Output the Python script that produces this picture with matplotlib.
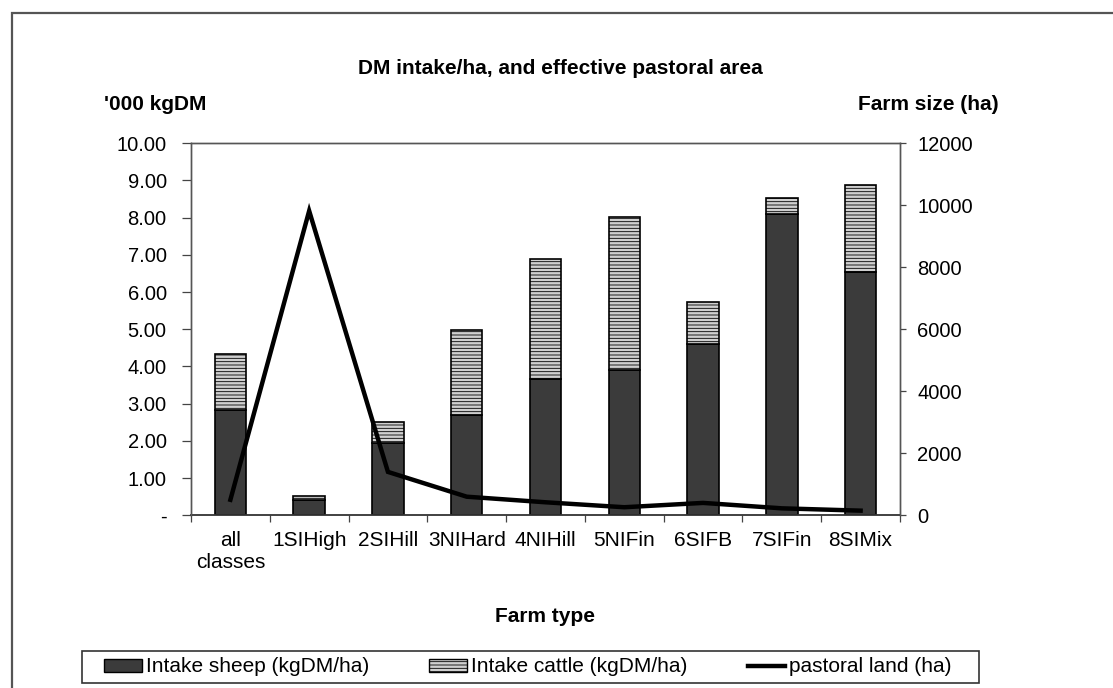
import matplotlib
matplotlib.use("Agg")
import matplotlib.pyplot as plt
from matplotlib.patches import Patch, Rectangle
from matplotlib.lines import Line2D
import numpy as np

plt.rcParams['font.family'] = ['Liberation Sans', 'DejaVu Sans']
plt.rcParams['hatch.color'] = '#8a8a8a'
plt.rcParams['hatch.linewidth'] = 0.6

# Data
farm_types = ["all\nclasses", "1SIHigh", "2SIHill", "3NIHard", "4NIHill",
              "5NIFin", "6SIFB", "7SIFin", "8SIMix"]
intake_sheep = [2.84, 0.40, 1.94, 2.70, 3.66, 3.91, 4.60, 8.09, 6.53]
intake_cattle = [1.50, 0.12, 0.58, 2.27, 3.24, 4.10, 1.13, 0.44, 2.36]
pastoral_land = [500, 9820, 1400, 600, 420, 260, 400, 225, 150]

left_ticks = np.arange(0, 11, 1)
left_labels = ["-"] + [f"{v:.2f}" for v in left_ticks[1:]]
right_ticks = np.arange(0, 12001, 2000)

TICK_FS = 14.5
BOLD_FS = 15

fig = plt.figure(figsize=(11.13, 6.88), dpi=100)
W, H = 1113, 688


def px_box(x0, y0, x1, y1):
    """Figure-fraction rectangle from pixel corners (origin top-left)."""
    return [x0 / W, 1 - y1 / H, (x1 - x0) / W, (y1 - y0) / H]


ax = fig.add_axes(px_box(191, 143.3, 900, 515.3))
x = np.arange(len(farm_types))

ax.bar(x, intake_sheep, width=0.4, color='#3b3b3b', edgecolor='black',
       linewidth=1.2, zorder=2)
ax.bar(x, intake_cattle, width=0.4, bottom=intake_sheep, color='#cfcfcf',
       edgecolor='black', linewidth=1.2, hatch='-----', zorder=2)

ax.set_xlim(-0.5, len(farm_types) - 0.5)
ax.set_ylim(0, 10)
ax.set_yticks(left_ticks)
ax.set_yticklabels(left_labels, fontsize=TICK_FS)
ax.set_xticks(x)
ax.set_xticklabels(farm_types, fontsize=15, linespacing=1.25)
ax.tick_params(axis='x', which='major', length=0, pad=11)
ax.set_xticks(np.arange(-0.5, len(farm_types), 1), minor=True)
ax.tick_params(axis='x', which='minor', length=5, width=0.9, color='#444444')
ax.tick_params(axis='y', length=6.5, width=0.9, color='#444444', pad=11)
for s in ax.spines.values():
    s.set_linewidth(1.0)
    s.set_color('#555555')
ax.spines['bottom'].set_color('#333333')
ax.spines['bottom'].set_linewidth(1.3)

ax2 = ax.twinx()
ax2.plot(x, pastoral_land, color='black', linewidth=3.2, zorder=3,
         solid_joinstyle='miter')
ax2.set_ylim(0, 12000)
ax2.set_yticks(right_ticks)
ax2.set_yticklabels([str(v) for v in right_ticks], fontsize=TICK_FS)
ax2.tick_params(axis='y', length=4, width=0.9, color='#444444', pad=8.5)
for s in ax2.spines.values():
    s.set_linewidth(1.0)
    s.set_color('#555555')
ax2.spines['bottom'].set_visible(False)

# Titles and axis captions
fig.text(560 / W, 1 - 68 / H, "DM intake/ha, and effective pastoral area",
         ha='center', va='center', fontsize=BOLD_FS, fontweight='bold')
fig.text(104 / W, 1 - 105 / H, "'000 kgDM", ha='left', va='center',
         fontsize=BOLD_FS, fontweight='bold')
fig.text(999 / W, 1 - 105 / H, "Farm size (ha)", ha='right', va='center',
         fontsize=BOLD_FS, fontweight='bold')
fig.text(545 / W, 1 - 617 / H, "Farm type", ha='center', va='center',
         fontsize=BOLD_FS, fontweight='bold')

# Outer chart frame
fig.patches.append(Rectangle((12 / W, -0.05), 1.2, 1 - 13 / H + 0.05,
                             transform=fig.transFigure, fill=False,
                             edgecolor='#555555', linewidth=1.6))

# Legend box
lb = px_box(82, 651, 979, 683)
fig.patches.append(Rectangle((lb[0], lb[1]), lb[2], lb[3],
                             transform=fig.transFigure, fill=False,
                             edgecolor='#333333', linewidth=1.2))

handles = [
    Patch(facecolor='#3b3b3b', edgecolor='black', linewidth=1.0),
    Patch(facecolor='#cfcfcf', edgecolor='black', linewidth=1.0, hatch='-----'),
    Line2D([0], [0], color='black', linewidth=3.2),
]
labels = ["Intake sheep (kgDM/ha)", "Intake cattle (kgDM/ha)", "pastoral land (ha)"]
leg = fig.legend(handles, labels, loc='center', ncol=3,
                 bbox_to_anchor=(528 / W, 1 - 667 / H), fontsize=15,
                 frameon=False, handlelength=1.8, handleheight=0.6,
                 handletextpad=0.2, columnspacing=2.9, borderpad=0,
                 borderaxespad=0)

fig.savefig("out.png", dpi=100)
